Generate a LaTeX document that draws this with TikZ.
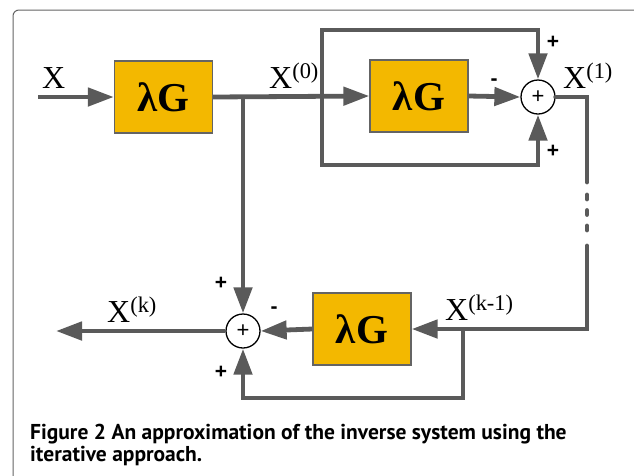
\documentclass[tikz,border=0pt]{standalone}
\usepackage{fontspec}
\setmainfont{Liberation Serif}
\setsansfont{Liberation Sans}
\newfontfamily\capfont{PT Sans}
\usepackage{xcolor}
\definecolor{wiregray}{RGB}{90, 90, 90}
\definecolor{framegray}{RGB}{100, 100, 100}
\definecolor{gamber}{RGB}{243, 184, 0}
\usepackage{tikz}
\usetikzlibrary{
    arrows.meta,
    calc
}

\begin{document}
\begin{tikzpicture}[
    x=1pt, y=-1pt,
    wire/.style={draw=wiregray, line width=4.8pt},
    arr/.style={wire, -{Triangle[length=26pt, width=18pt]}},
    block/.style={draw=framegray, line width=1.3pt, fill=gamber, minimum width=98pt, minimum height=72pt, inner sep=0pt, font=\fontsize{41}{41}\selectfont\bfseries},
    sumpt/.style={circle, draw=black, line width=1.3pt, fill=white, minimum size=34pt, inner sep=0pt, font=\sffamily\fontsize{22}{22}\selectfont},
    sig/.style={inner sep=0pt, anchor=base west, font=\fontsize{32}{32}\selectfont},
    sgn/.style={inner sep=0pt, font=\sffamily\bfseries\fontsize{21}{21}\selectfont}
]

\useasboundingbox (0,0) rectangle (634,475);

% Frame
\begin{scope}
\clip (0,0) rectangle (634,475);
\draw[framegray, line width=1pt, rounded corners=6pt] (13,10) rectangle (660,500);
\end{scope}

% 1. Blocks and summing points
\node[block] (g1) at (163.5,97) {λG};
\node[block] (g2) at (419,96) {λG};
\node[block] (g3) at (362,329) {λG};
\node[sumpt] (s1) at (538,97) {+};
\node[sumpt] (s2) at (243,331) {+};

% 2. Signal labels
\node[sig] (lx) at (42,88) {X};
\node[sig] (lx0) at (269,88) {X\textsuperscript{(0)}};
\node[sig] (lx1) at (563,88) {X\textsuperscript{(1)}};
\node[sig] (lxk1) at (445,320) {X\textsuperscript{(k-1)}};
\node[sig] (lxk) at (107,322) {X\textsuperscript{(k)}};

% 3. Signs at the summing points
\node[sgn] (p1) at (553,42) {+};
\node[sgn] (p2) at (553,151) {+};
\node[sgn] (m1) at (494,82) {-};
\node[sgn] (p3) at (221,283) {+};
\node[sgn] (p4) at (221,372) {+};
\node[sgn] (m2) at (274,310) {-};

% 4. Junctions and bends
\coordinate (xin) at (38,97);
\coordinate (b0) at (243,97);
\coordinate (bl) at (322,97);
\coordinate (ltop) at (322,30);
\coordinate (lbot) at (322,165);
\coordinate (r1) at (587,97);
\coordinate (d1) at (587,182);
\coordinate (d2) at (587,195);
\coordinate (d3) at (587,231);
\coordinate (d4) at (587,246);
\coordinate (b3) at (463,329);
\coordinate (lret) at (463,398);
\coordinate (xout) at (56,331);

% 5. Connectors
\draw[arr] (xin) -- (g1.west);
\draw[arr] (g1.east) -- (g2.west);
\draw[arr] (b0) -- (s2.north);
\draw[arr] (bl) -- (ltop) -| (s1.north);
\draw[arr] (bl) -- (lbot) -| (s1.south);
\draw[arr] (g2.east) -- (s1.west);
\draw[wire, line cap=round] (s1.east) -- (r1) -- (d1);
\draw[wire, line cap=round, dash pattern=on 4pt off 11.5pt] (d2) -- (d3);
\draw[arr, line cap=round] (d4) |- (g3.east);
\draw[arr] (b3) -- (lret) -| (s2.south);
\draw[arr] (g3.west) -- (s2.east);
\draw[arr] (s2.west) -- (xout);

% 6. Caption
\node[inner sep=0pt, anchor=base west, align=left, font=\capfont\bfseries\fontsize{21.5}{22}\selectfont] (cap) at (30,461)
    {Figure 2 An approximation of the inverse system using the\\iterative approach.};

\end{tikzpicture}
\end{document}
